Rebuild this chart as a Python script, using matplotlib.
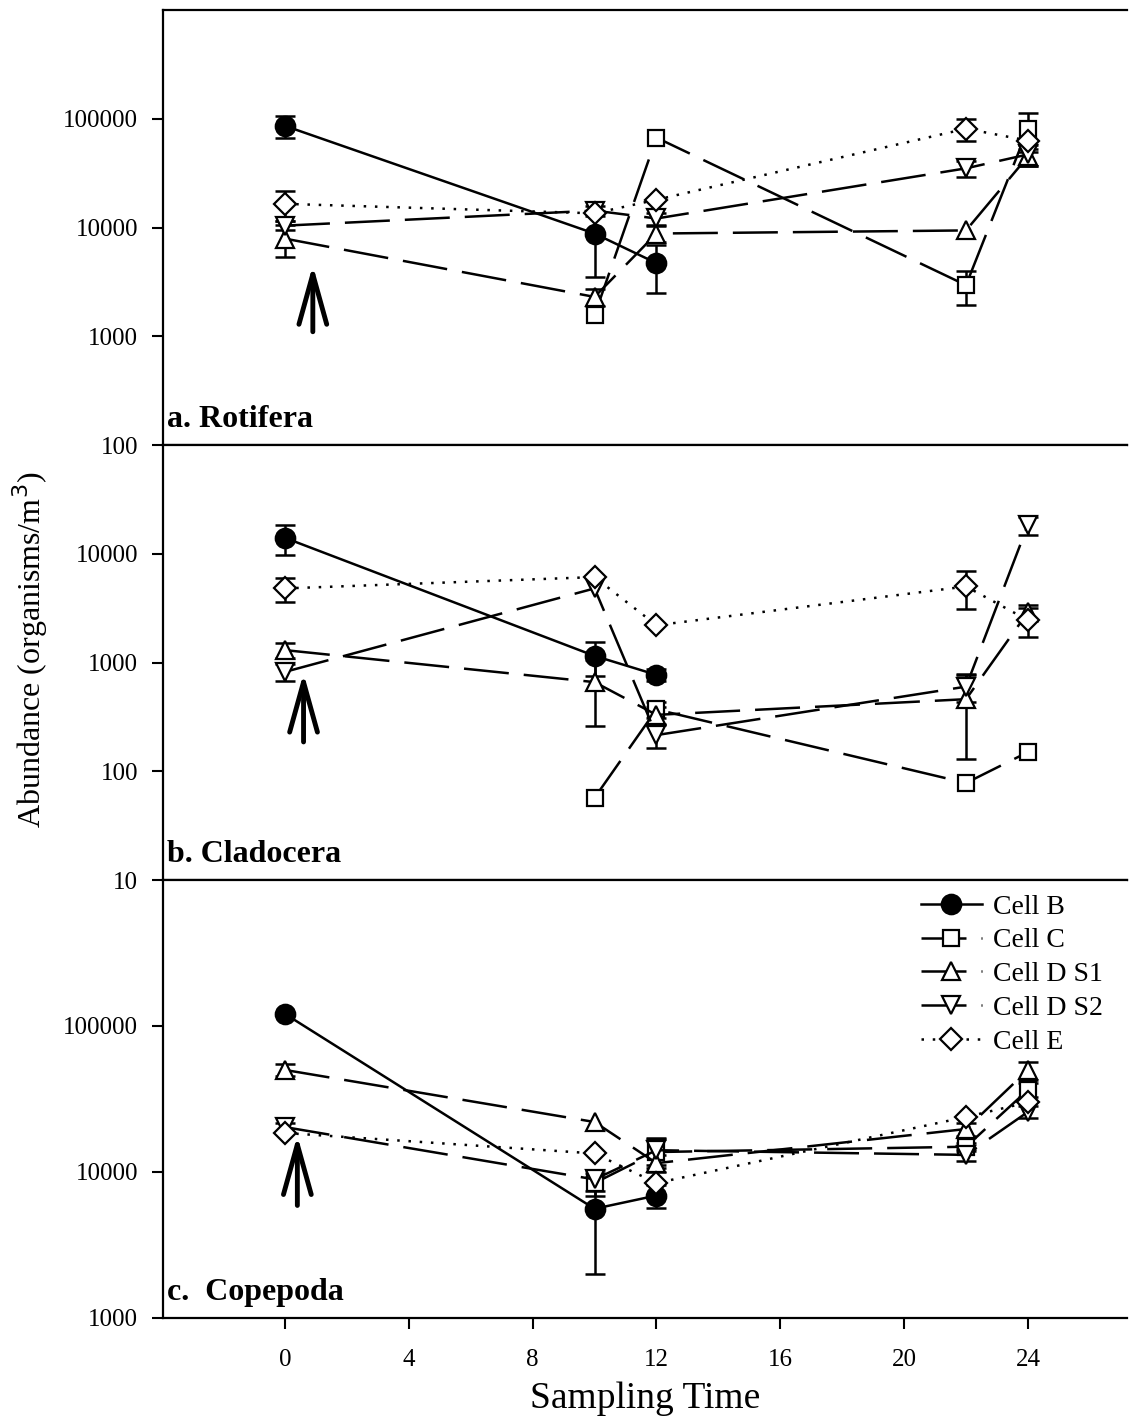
import numpy as np
import matplotlib
matplotlib.use('Agg')
import matplotlib.pyplot as plt
from matplotlib.ticker import FixedLocator, FixedFormatter, NullLocator

plt.rcParams['font.family'] = ['Liberation Serif', 'DejaVu Serif']

# Sampling times for each cell
t_b = [0, 10, 12]
t_c = [10, 12, 22, 24]
t_d = [0, 10, 12, 22, 24]
t_e = [0, 10, 12, 22, 24]

nan = np.nan

# Rotifera: means and standard errors (nan = no bar)
rot_b = [86000, 8800, 4700]
rot_b_se = [20000, 5300, 2200]
rot_c = [1560, 67000, 2950, 81000]
rot_c_se = [nan, nan, 1000, 32000]
rot_d1 = [7900, 2300, 8800, 9400, 45000]
rot_d1_se = [2600, 400, 1500, nan, 8000]
rot_d2 = [10400, 14300, 12100, 35000, 47000]
rot_d2_se = [1000, 1500, 1500, 6000, 10000]
rot_e = [16500, 13500, 18000, 81000, 63000]
rot_e_se = [5000, nan, nan, 18000, nan]

# Cladocera
cla_b = [14000, 1150, 770]
cla_b_se = [4300, 400, 100]
cla_c = [57, 370, 78, 150]
cla_c_se = [nan, 60, nan, nan]
cla_d1 = [1300, 660, 330, 460, 2900]
cla_d1_se = [200, 400, 60, 330, 500]
cla_d2 = [820, 4800, 215, 600, 18500]
cla_d2_se = [150, nan, 50, 170, 3500]
cla_e = [4800, 6100, 2200, 5000, 2450]
cla_e_se = [1200, nan, nan, 1900, 750]

# Copepoda
cop_b = [121000, 5600, 6900]
cop_b_se = [nan, 3600, 1200]
cop_c = [8400, 13700, 14900, 36500]
cop_c_se = [1500, 3000, 1000, 4000]
cop_d1 = [50000, 22000, 11500, 19700, 50000]
cop_d1_se = [4500, nan, 1500, 2000, 7000]
cop_d2 = [20300, 8900, 14100, 13100, 25800]
cop_d2_se = [1500, 1500, 3000, 1200, 2500]
cop_e = [18500, 13400, 8400, 23800, 30000]
cop_e_se = [nan, nan, nan, nan, nan]

labels = ['Cell B', 'Cell C', 'Cell D S1', 'Cell D S2', 'Cell E']
panel_titles = ['a. Rotifera', 'b. Cladocera', 'c.  Copepoda']

# arrow marking the treatment: x, head value, tail value
arrows = [(0.9, 4500, 1100), (0.6, 800, 186), (0.4, 17800, 5900)]

ylims = [(100, 1e6), (10, 1e5), (1000, 1e6)]
yticks = [[100, 1000, 10000, 100000],
          [10, 100, 1000, 10000],
          [1000, 10000, 100000]]

panels = [
    [(t_b, rot_b, rot_b_se), (t_c, rot_c, rot_c_se), (t_d, rot_d1, rot_d1_se),
     (t_d, rot_d2, rot_d2_se), (t_e, rot_e, rot_e_se)],
    [(t_b, cla_b, cla_b_se), (t_c, cla_c, cla_c_se), (t_d, cla_d1, cla_d1_se),
     (t_d, cla_d2, cla_d2_se), (t_e, cla_e, cla_e_se)],
    [(t_b, cop_b, cop_b_se), (t_c, cop_c, cop_c_se), (t_d, cop_d1, cop_d1_se),
     (t_d, cop_d2, cop_d2_se), (t_e, cop_e, cop_e_se)],
]

lw = 1.8
styles = [
    dict(marker='o', ms=14, mfc='black', ls='-'),
    dict(marker='s', ms=11, mfc='white', ls=(0, (18, 6))),
    dict(marker='^', ms=13, mfc='white', ls=(0, (18, 6))),
    dict(marker='v', ms=13, mfc='white', ls=(0, (18, 6))),
    dict(marker='D', ms=11, mfc='white', ls=(0, (1, 3.5))),
]

fig = plt.figure(figsize=(11.30, 14.16), dpi=100)
left, right = 163 / 1130, 1127 / 1130
edges = [10, 445, 880, 1318]

axes = []
for i in range(3):
    top = 1 - edges[i] / 1416
    bot = 1 - edges[i + 1] / 1416
    ax = fig.add_axes([left, bot, right - left, top - bot])
    axes.append(ax)

for i, ax in enumerate(axes):
    for j, (x, y, se) in enumerate(panels[i]):
        st = styles[j]
        x = np.array(x, dtype=float)
        y = np.array(y, dtype=float)
        se = np.array(se, dtype=float)
        ok = ~np.isnan(se)
        if ok.any():
            ax.errorbar(x[ok], y[ok], yerr=se[ok], fmt='none', ecolor='black',
                        elinewidth=lw, capsize=7, capthick=lw, zorder=2)
        ax.plot(x, y, color='black', lw=lw, linestyle=st['ls'],
                marker=st['marker'], ms=st['ms'], mfc=st['mfc'],
                mec='black', mew=1.6, label=labels[j], zorder=3)

    ax.set_yscale('log')
    ax.set_ylim(*ylims[i])
    ax.set_xlim(-3.94, 27.2)
    ax.yaxis.set_major_locator(FixedLocator(yticks[i]))
    ax.yaxis.set_major_formatter(FixedFormatter([str(v) for v in yticks[i]]))
    ax.yaxis.set_minor_locator(NullLocator())
    ax.set_xticks([0, 4, 8, 12, 16, 20, 24])
    ax.tick_params(axis='both', direction='out', length=8, width=1.5,
                   labelsize=18)
    ax.tick_params(axis='y', pad=10)
    ax.tick_params(axis='x', pad=14)
    if i < 2:
        ax.tick_params(axis='x', labelbottom=False)
    for s in ['left', 'top', 'bottom']:
        ax.spines[s].set_linewidth(1.6)
    ax.spines['right'].set_visible(False)

    ax.text(0.004, 0.025, panel_titles[i], transform=ax.transAxes,
            fontsize=23, fontweight='bold', ha='left', va='bottom')

    ax_x, head, tail = arrows[i]
    ax.annotate('', xy=(ax_x, head), xytext=(ax_x, tail),
                arrowprops=dict(arrowstyle='->,head_length=1.8,head_width=0.5',
                                mutation_scale=20, lw=3.5, color='black',
                                shrinkA=0, shrinkB=0))

axes[2].set_xlabel('Sampling Time', fontsize=27, labelpad=8)
axes[2].legend(loc='upper right', bbox_to_anchor=(0.995, 1.012), frameon=False,
               fontsize=20, handlelength=2.2, labelspacing=0.3,
               handletextpad=0.4, borderaxespad=0.3)

fig.text(0.027, 1 - 650 / 1416, 'Abundance (organisms/m$^3$)', rotation=90,
         fontsize=23, ha='center', va='center')

fig.savefig('out.png', dpi=100)
